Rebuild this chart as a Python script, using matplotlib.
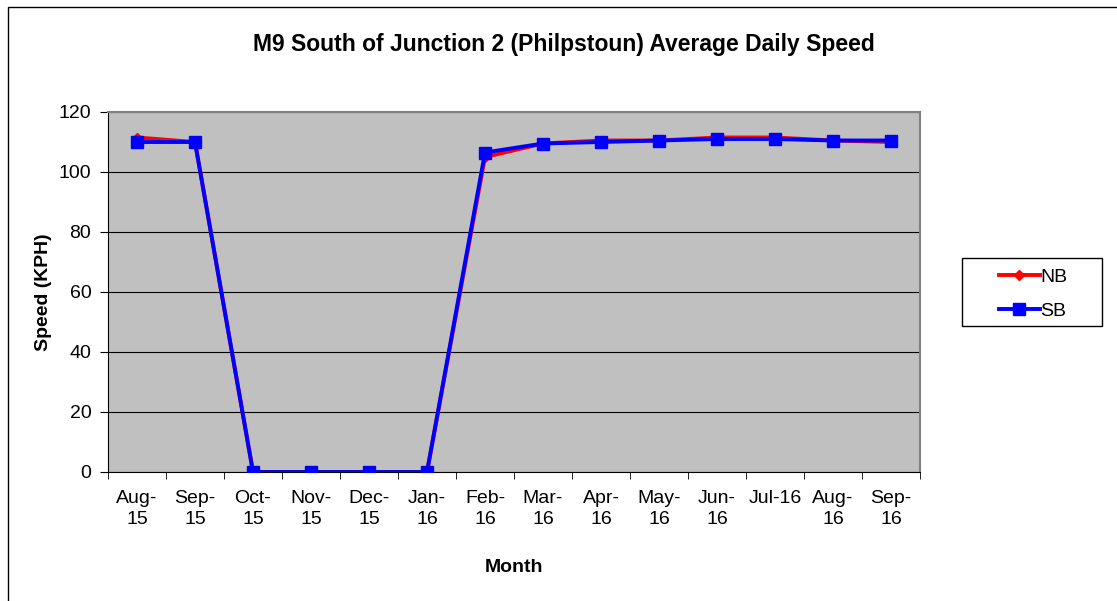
import matplotlib.pyplot as plt
import numpy as np

plt.rcParams['font.family'] = ['Liberation Sans', 'DejaVu Sans']

months = ["Aug-\n15", "Sep-\n15", "Oct-\n15", "Nov-\n15", "Dec-\n15", "Jan-\n16", "Feb-\n16",
          "Mar-\n16", "Apr-\n16", "May-\n16", "Jun-\n16", "Jul-16", "Aug-\n16", "Sep-\n16"]
nb = [111.5, 110, 0, 0, 0, 0, 105, 109.5, 110.5, 110.5, 111.5, 111.5, 110.5, 110]
sb = [110, 110, 0, 0, 0, 0, 106.5, 109.5, 110, 110.5, 111, 111, 110.5, 110.5]

W, H = 1117, 601
fig = plt.figure(figsize=(W / 100, H / 100), dpi=100)
# outer chart border
fig.patches.append(plt.Rectangle((8 / W, -0.01), 1.1, 1 - 7 / H + 0.01, transform=fig.transFigure,
                                 fill=False, edgecolor='black', linewidth=1))
ax = fig.add_axes([108 / W, 1 - 472 / H, (920 - 108) / W, (472 - 112) / H])
ax.set_facecolor('#c0c0c0')

x = np.arange(len(months))
ax.plot(x, nb, color='#ff0000', linewidth=2.8, marker='D', markersize=5, label='NB', zorder=3)
ax.plot(x, sb, color='#0000ff', linewidth=2.8, marker='s', markersize=8.5, label='SB', zorder=4)

ax.set_xlim(-0.5, len(months) - 0.5)
ax.set_ylim(0, 120)
ax.set_yticks(range(0, 121, 20))
ax.yaxis.grid(True, color='black', linewidth=0.8)
ax.set_axisbelow(True)

ax.set_xticks(x)
ax.set_xticklabels(months, fontsize=14, linespacing=1.3)
ax.set_xticks(np.arange(-0.5, len(months), 1), minor=True)
ax.tick_params(axis='x', which='major', length=0, pad=13)
ax.tick_params(axis='x', which='minor', length=5, direction='out', color='black')
ax.tick_params(axis='y', labelsize=14, length=6, direction='out', pad=6)

for s in ['top', 'right']:
    ax.spines[s].set_color('#808080')
    ax.spines[s].set_linewidth(1.5)
for s in ['left', 'bottom']:
    ax.spines[s].set_color('black')

ax.set_xlabel('Month', fontsize=14, fontweight='bold', labelpad=22)
ax.set_ylabel('Speed (KPH)', fontsize=14, fontweight='bold', labelpad=5)
fig.text(0.505, 1 - 44 / H, 'M9 South of Junction 2 (Philpstoun) Average Daily Speed',
         ha='center', va='center', fontsize=16.5, fontweight='bold')

# legend box drawn separately, entries placed inside it
fig.patches.append(plt.Rectangle((962 / W, 1 - 326 / H), 140 / W, 68 / H, transform=fig.transFigure,
                                 fill=False, edgecolor='black', linewidth=1))
leg = ax.legend(loc='center left', bbox_to_anchor=(989 / W, 1 - 294 / H), bbox_transform=fig.transFigure,
                frameon=False, fontsize=14, handlelength=2.1, borderpad=0,
                labelspacing=0.85, handletextpad=0.05)

fig.savefig('out.png', dpi=100)
